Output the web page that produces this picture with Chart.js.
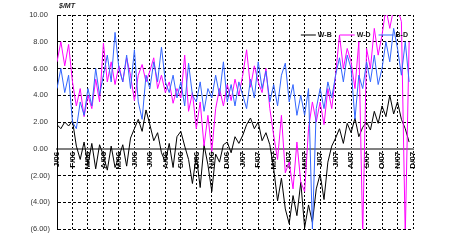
<!DOCTYPE html>
<html>
<head>
<meta charset="utf-8">
<script src="https://cdn.jsdelivr.net/npm/chart.js@4.4.1/dist/chart.umd.min.js"></script>
<style>
  html, body { margin: 0; padding: 0; background: #fff; }
  #wrap { width: 450px; height: 250px; }
</style>
</head>
<body>
<div id="wrap"><canvas id="chart"></canvas></div>
<script>
// month tick labels, Jan 06 .. Dec 07
const monthLabels = ['J/06', 'F/06', 'M/06', 'A/06', 'M/06', 'J/06', 'J/06', 'A/06', 'S/06', 'O/06', 'N/06', 'D/06',
                     'J/07', 'F/07', 'M/07', 'A/07', 'M/07', 'J/07', 'J/07', 'A/07', 'S/07', 'O/07', 'N/07', 'D/07'];
const unitLabel = '$/MT';
const seriesNames = ['W-B', 'W-D', 'B-D'];

// weekly readings (4 per month), $/MT
const wb = [
  1.8, 1.5, 2.0, 1.7,   2.1, 0.2, -0.8, 0.5,   -1.2, 0.4, -1.5, 0.3,   -0.5, -1.6, 0.2, -1.4,
  -0.6, 0.3, -1.3, 0.8,   1.5, 2.2, 1.3, 2.9,   1.8, 0.6, 1.2, -0.3,   -1.0, 0.4, -1.4, 0.9,
  1.3, 0.2, -0.8, -2.6,   -0.5, -2.9, 0.3, -1.2,   -3.2, -0.4, -1.0, 0.3,   0.5, -0.3, 0.9, 0.4,
  1.0, 1.8, 2.3, 1.5,   2.0, 0.6, 1.2, 0.3,   -1.5, -3.9, -2.2, -4.5,   -5.6, -3.5, -5.0, -2.5,
  -5.9, -4.2, -5.5, -3.0,   -1.9, -3.8, -1.0, 0.2,   0.8, 1.5, 0.4, 1.9,   1.2, 2.3, 0.9, 1.6,
  2.0, 1.4, 2.8, 1.9,   3.2, 2.4, 4.0, 2.6,   3.5, 2.2, 1.5, 0.5
];
const wd = [
  6.5, 8.0, 6.2, 7.8,   5.0, 3.2, 4.5, 2.4,   4.0, 3.0, 5.2, 3.5,   7.9, 5.0, 6.5, 4.8,
  6.2, 5.0, 6.8, 5.5,   3.6, 5.5, 6.3, 5.0,   5.8, 6.8, 4.5, 5.5,   4.2, 5.0, 3.4, 4.5,
  3.8, 7.0, 2.8, 4.2,   1.5, 3.5, 0.2, 2.5,   -0.2, 3.0, 4.5, 3.2,   4.8, 3.6, 5.2, 4.0,
  5.5, 7.4, 4.6, 6.2,   5.0, 4.2, 6.0, 3.0,   1.0, -0.8, 2.5, -1.8,   -1.0, -3.0, 0.5, -2.5,
  -3.2, 1.5, 3.5, 2.0,   3.5, 1.8, 4.5, 3.0,   5.5, 8.5, 6.0, 7.5,   6.5, 4.5, 8.0, -6.5,
  7.5, 6.0, 9.0, 7.0,   8.5, 10.5, 9.0, 10.5,   10.5, 9.5, -6.5, 8.0
];
const bd = [
  4.5, 6.0, 4.2, 5.5,   2.0, 1.5, 3.5, 2.5,   4.5, 3.2, 6.0, 4.0,   5.5, 7.0, 5.0, 8.7,
  6.0, 5.0, 7.0, 4.5,   7.4, 3.5, 2.2, 5.5,   4.5, 6.5, 5.0, 7.6,   5.0, 4.2, 5.5, 3.8,
  5.0, 3.2, 6.4, 4.0,   3.5, 5.0, 2.8, 4.5,   3.8, 5.5, 4.0, 6.5,   3.5, 4.8, 3.2, 5.0,
  4.0, 3.0, 5.2, 3.8,   6.5, 4.5, 5.8, 3.5,   4.8, 3.2, 5.5, 6.4,   3.5, 4.8, 2.5, 4.0,
  2.5, 4.5, -6.0, 3.0,   4.5, 3.0, 5.0, 3.8,   5.5, 6.8, 5.0, 7.0,   6.0, 2.2, 5.5, 4.5,
  6.5, 5.0, 7.0, 4.8,   6.0, 8.0, 6.5, 9.0,   7.5, 5.5, 8.0, 5.0
];
const colors = ['#000000', '#ff00ff', '#3366ff'];

// week i -> position in months
const toPoints = arr => arr.map((v, i) => ({ x: i / 4, y: v }));

// unit label + legend drawn inside the plot, like the original
const extras = {
  id: 'extras',
  afterDatasetsDraw(chart) {
    const ctx = chart.ctx;
    const area = chart.chartArea;
    ctx.save();
    ctx.fillStyle = '#222';
    ctx.font = 'bold italic 7px "Liberation Sans", Arial, sans-serif';
    ctx.textBaseline = 'middle';
    ctx.textAlign = 'left';
    ctx.fillText(unitLabel, area.left + 2, 6);

    ctx.font = 'bold 7px "Liberation Sans", Arial, sans-serif';
    let widths = seriesNames.map(n => 15 + 2 + ctx.measureText(n).width);
    let total = widths.reduce((a, b) => a + b, 0) + 8 * (seriesNames.length - 1);
    let x = area.right - 5 - total;
    let y = area.top + 20;
    seriesNames.forEach((n, i) => {
      ctx.strokeStyle = colors[i];
      ctx.lineWidth = 1;
      ctx.beginPath();
      ctx.moveTo(x, y);
      ctx.lineTo(x + 15, y);
      ctx.stroke();
      ctx.fillStyle = '#111';
      ctx.fillText(n, x + 17, y);
      x += widths[i] + 8;
    });
    ctx.restore();
  }
};

new Chart(document.getElementById('chart'), {
  type: 'line',
  data: {
    datasets: [{
      label: seriesNames[0],
      data: toPoints(wb),
      borderColor: colors[0],
      order: 3
    }, {
      label: seriesNames[1],
      data: toPoints(wd),
      borderColor: colors[1],
      order: 2
    }, {
      label: seriesNames[2],
      data: toPoints(bd),
      borderColor: colors[2],
      order: 1
    }]
  },
  options: {
    responsive: true,
    maintainAspectRatio: false,
    animation: false,
    layout: { padding: { left: 0, top: 15, right: 37, bottom: 21 } },
    elements: {
      line: { borderWidth: 1, tension: 0 },
      point: { radius: 0 }
    },
    plugins: {
      legend: { display: false },
      tooltip: { enabled: false }
    },
    scales: {
      x: {
        type: 'linear',
        position: { y: 0 },
        min: 0,
        max: 23,
        grid: { color: '#000', lineWidth: 1, drawTicks: false },
        border: { display: true, color: '#808080', width: 2, dash: [2, 2] },
        ticks: {
          stepSize: 1,
          autoSkip: false,
          minRotation: 90,
          maxRotation: 90,
          padding: 3,
          color: '#000',
          font: { family: '"Liberation Sans", Arial, sans-serif', size: 8, weight: 'bold' },
          callback: v => monthLabels[v]
        }
      },
      y: {
        min: -6,
        max: 10,
        grid: { color: '#000', lineWidth: 1, drawTicks: false },
        border: { display: true, color: '#000', width: 1, dash: [3, 2] },
        afterFit: s => { s.width = 57; },
        ticks: {
          stepSize: 2,
          padding: 7,
          color: '#333',
          font: { family: '"Liberation Sans", Arial, sans-serif', size: 7.5 },
          callback: v => v < 0 ? '(' + Math.abs(v).toFixed(2) + ')' : v.toFixed(2) + ' '
        }
      }
    }
  },
  plugins: [extras]
});
</script>
</body>
</html>
